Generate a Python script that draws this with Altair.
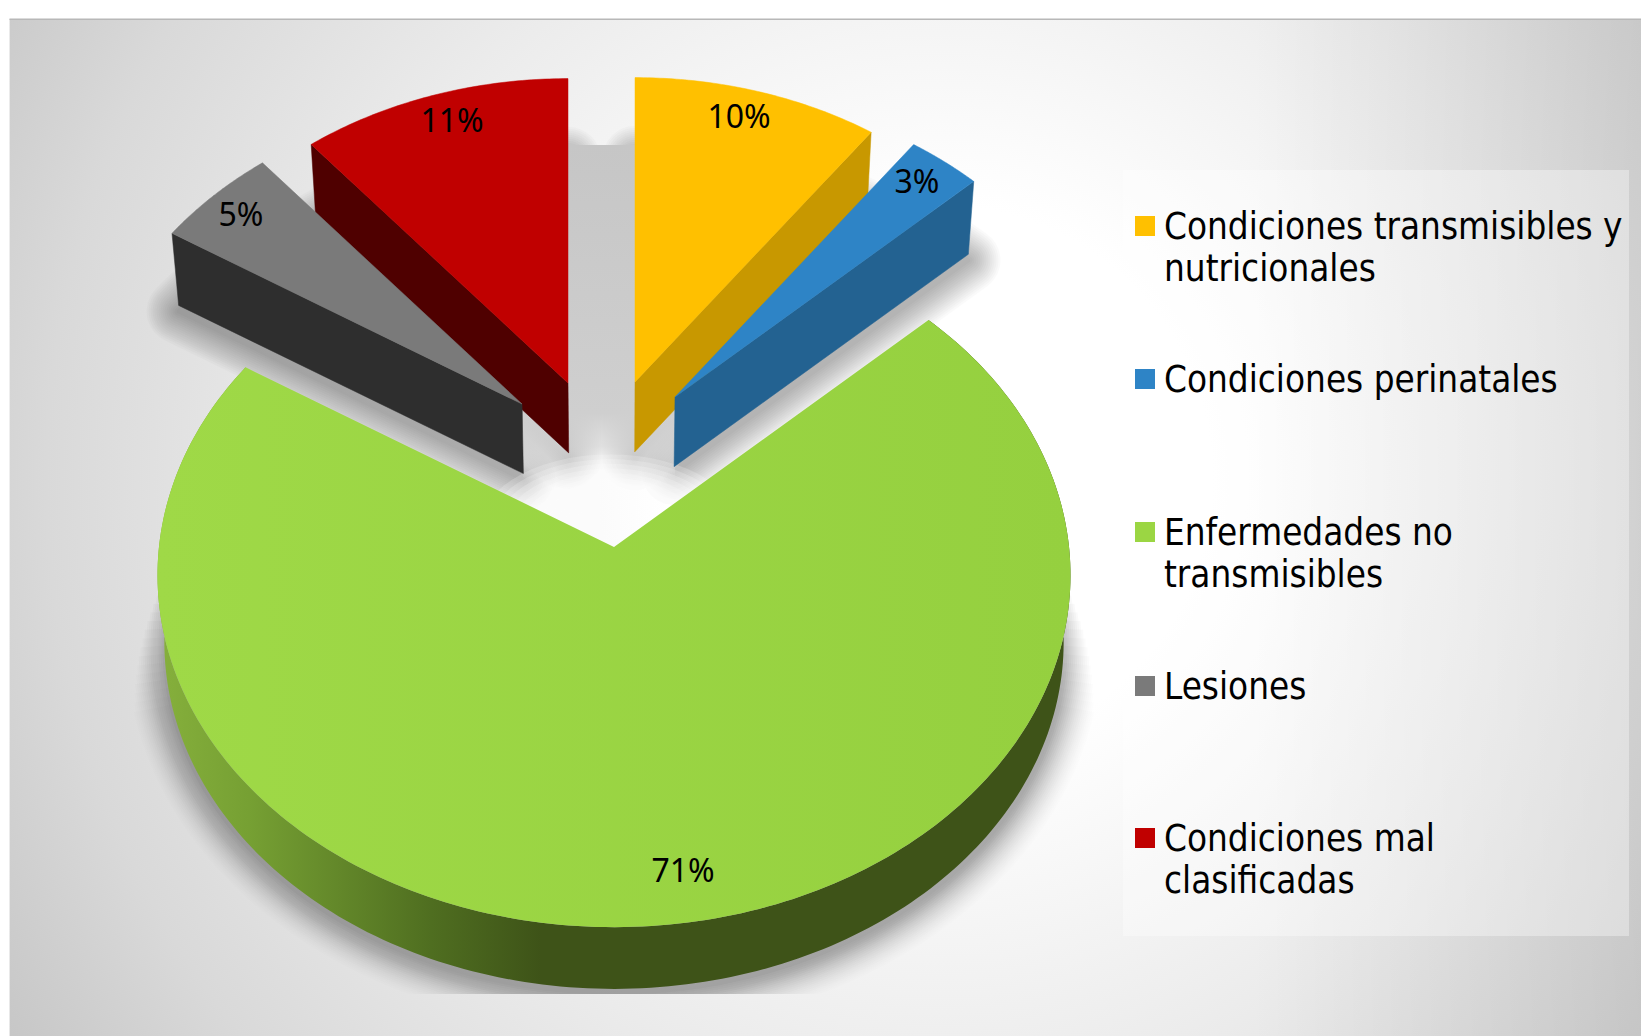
import math
import altair as alt
import pandas as pd

# ---- chart values -------------------------------------------------------
categories = ["Condiciones transmisibles y nutricionales", "Condiciones perinatales",
              "Enfermedades no transmisibles", "Lesiones", "Condiciones mal clasificadas"]
values = [10, 3, 71, 5, 11]
labels = ["10%", "3%", "71%", "5%", "11%"]
legend_lines = [["Condiciones transmisibles y", "nutricionales"], ["Condiciones perinatales"],
                ["Enfermedades no", "transmisibles"], ["Lesiones"], ["Condiciones mal", "clasificadas"]]

# ---- style --------------------------------------------------------------
top_colors = ["#ffc000", "#2e84c6", "#9bd643", "#7a7a7a", "#c00000"]
wall_colors = ["#c89800", "#236291", "#3e5318", "#2e2e2e", "#4f0000"]
explode_apex = [(635, 382), (675, 397), (614, 547), (522, 404), (568, 383)]
slice_scale = [0.94, 0.95, 1.0, 0.95, 0.94]
label_pos = [(739, 118), (917, 183), (683, 872), (241, 216), (452, 122)]
legend_y = [226, 379, 532, 686, 838]
FONT_PCT = "Noto Sans"
FONT_LEG = "DejaVu Sans Condensed"

W, H = 1633, 1028
CX, CY, RX, RY = 614, 575, 456.5, 352
TANH = 0.08
X = alt.X("x:Q", axis=None, scale=alt.Scale(domain=[8, 8 + W], nice=False, zero=False))
Y = alt.Y("y:Q", axis=None, scale=alt.Scale(domain=[8 + H, 8], nice=False, zero=False))
X2 = alt.X2("x2:Q")
Y2 = alt.Y2("y2:Q")


def project(deg):
    """pie plane -> picture, with the perspective of the tilted pie"""
    t = math.radians(deg)
    u, v = math.sin(t), math.cos(t)
    ch = 1 / math.sqrt(1 - TANH ** 2)
    sh = TANH * ch
    d = ch + v * sh
    return CX + RX * u / d, CY - RY * (v * ch + sh) / d


def drop(p):
    """top face -> bottom face"""
    return CX + 0.985 * (p[0] - CX), CY + 67 + 0.985 * (p[1] - CY)


O = (CX, CY - RY * TANH)


def pt(i, deg):
    ax, ay = explode_apex[i]
    px, py = project(deg)
    s = slice_scale[i]
    return ax + s * (px - O[0]), ay + s * (py - O[1])


def arc(i, a0, a1, n=120):
    return [pt(i, a0 + (a1 - a0) * k / n) for k in range(n + 1)]


def poly(points, **mark):
    df = pd.DataFrame({"x": [p[0] for p in points], "y": [p[1] for p in points], "i": range(len(points))})
    return alt.Chart(df).mark_line(interpolate="linear-closed", **mark).encode(x=X, y=Y, order="i:Q")


def box(x0, x1, y0, y1, **mark):
    df = pd.DataFrame({"x": [x0], "x2": [x1], "y": [y0], "y2": [y1]})
    return alt.Chart(df).mark_rect(**mark).encode(x=X, x2=X2, y=Y, y2=Y2)


def grad(stops, **kw):
    return dict(gradient="linear", stops=[dict(offset=o, color=c) for o, c in stops], **kw)


# angles of every slice, clockwise from 12 o'clock
angles = []
acc = 0
for v in values:
    angles.append((acc * 3.6, (acc + v) * 3.6))
    acc += v

layers = []

# background
layers.append(box(9.5, 8 + W, 19, 8 + H, fill=dict(
    gradient="radial", x1=0.57, y1=0.47, r1=0, x2=0.57, y2=0.47, r2=0.76,
    stops=[dict(offset=0.0, color="#ffffff"), dict(offset=0.22, color="#ffffff"),
           dict(offset=0.5, color="#ebebeb"), dict(offset=0.72, color="#d9d9d9"),
           dict(offset=1.0, color="#b8b8b8")])))
layers.append(box(1250, 8 + W, 19, 8 + H, fill=grad(
    [(0, "rgba(0,0,0,0)"), (1, "rgba(0,0,0,0.09)")], x1=0, x2=1, y1=0, y2=0)))
layers.append(box(9.5, 8 + W, 18.5, 20, fill="#b8b8b8"))

# soft shadows of the exploded slices
for i in (0, 1, 3, 4):
    a0, a1 = angles[i]
    apex = drop(explode_apex[i])
    pts = [(apex[0], apex[1] + 6)] + [(p[0], p[1] + 6) for p in map(drop, arc(i, a0, a1, 40))]
    for w in range(4, 68, 4):
        layers.append(poly(pts, fill="#000000", stroke="#000000", strokeWidth=w,
                           strokeJoin="round", opacity=0.015))

# central shadow behind the exploded slices
layers.append(box(523, 675, 145, 480, fill=grad(
    [(0, "rgba(198,198,198,1)"), (0.8, "rgba(207,207,207,1)"), (0.9, "rgba(215,215,215,0.75)"),
     (1, "rgba(240,240,240,0)")],
    x1=0, x2=0, y1=0, y2=1)))

# the bright notch of the big slice
for n in range(12):
    f = 1.05 - n * 0.065
    pts = [(610 + 125 * f * math.cos(math.radians(k)), 530 + 72 * f * math.sin(math.radians(k)))
           for k in range(0, 360, 6)]
    layers.append(poly(pts, fill="#ffffff", stroke="transparent", strokeWidth=0, opacity=0.2))

# shadow of the big slice, cut flat at its foot
ax, ay = drop(explode_apex[2])
for e in range(2, 40, 2):
    pts = [(ax, ay)]
    a_from, a_to = 78 + e * 0.7, 282 - e * 0.7
    for k in range(161):
        p = drop(project(a_from + (a_to - a_from) * k / 160))
        dx, dy = p[0] - CX, p[1] - (CY + 67)
        q = math.hypot(dx, dy)
        pts.append((p[0] + e * dx / q, min(994, p[1] + 4 + e * dy / q)))
    layers.append(poly(pts, fill="#000000", stroke="#000000", strokeWidth=0, opacity=0.006 + 0.012 * (40 - e) / 20))

# big slice: wall, then top
a0, a1 = angles[2]
rim = arc(2, a0, a1, 240)
wall_pts = rim + [drop(p) for p in reversed(rim)]
layers.append(poly(wall_pts, fill=grad(
    [(0, "#86b03c"), (0.1, "#76a033"), (0.3, "#4f6e20"), (0.42, "#3e5318"), (1, "#3e5318")],
    x1=0, x2=1, y1=0, y2=0), stroke="transparent", strokeWidth=0))
layers.append(poly([explode_apex[2]] + rim, fill=grad(
    [(0, "#9fd947"), (1, "#95d03f")], x1=0, x2=1, y1=0, y2=0), stroke="transparent", strokeWidth=0))

# exploded slices: radial wall, then top
wall_edge = {0: angles[0][1], 1: angles[1][1], 3: angles[3][0], 4: angles[4][0]}
for i in (0, 1, 4, 3):
    a0, a1 = angles[i]
    apex = explode_apex[i]
    e = pt(i, wall_edge[i])
    layers.append(poly([apex, e, drop(e), drop(apex)], fill=wall_colors[i], stroke=wall_colors[i], strokeWidth=0.5))
    layers.append(poly([apex] + arc(i, a0, a1, 60), fill=top_colors[i], stroke=top_colors[i], strokeWidth=0.5))

# percentage labels
df = pd.DataFrame({"x": [p[0] for p in label_pos], "y": [p[1] for p in label_pos], "t": labels})
layers.append(alt.Chart(df).mark_text(font=FONT_PCT, fontSize=32, color="#000000", align="center",
                                      baseline="middle").encode(x=X, y=Y, text="t:N"))

# legend panel
layers.append(box(1123, 1629, 170, 936, fill="#ffffff", opacity=0.35))
df = pd.DataFrame({"x": [1145] * 5, "y": legend_y, "c": categories})
layers.append(alt.Chart(df).mark_square(size=400, opacity=1, strokeWidth=0).encode(
    x=X, y=Y, fill=alt.Fill("c:N", legend=None, scale=alt.Scale(domain=categories, range=top_colors))))
rows = []
for y, lines in zip(legend_y, legend_lines):
    for k, t in enumerate(lines):
        rows.append({"x": 1164, "y": y + 12.5 + 42.5 * k, "t": t})
layers.append(alt.Chart(pd.DataFrame(rows)).mark_text(
    font=FONT_LEG, fontSize=36.5, color="#000000", align="left", baseline="alphabetic").encode(x=X, y=Y, text="t:N"))

chart = alt.layer(*layers).properties(
    width=W, height=H, padding=0, autosize=alt.AutoSizeParams(type="none"), background="#ffffff"
).configure_view(stroke=None)
chart.save("out.html", embed_options={"renderer": "svg", "actions": False})
